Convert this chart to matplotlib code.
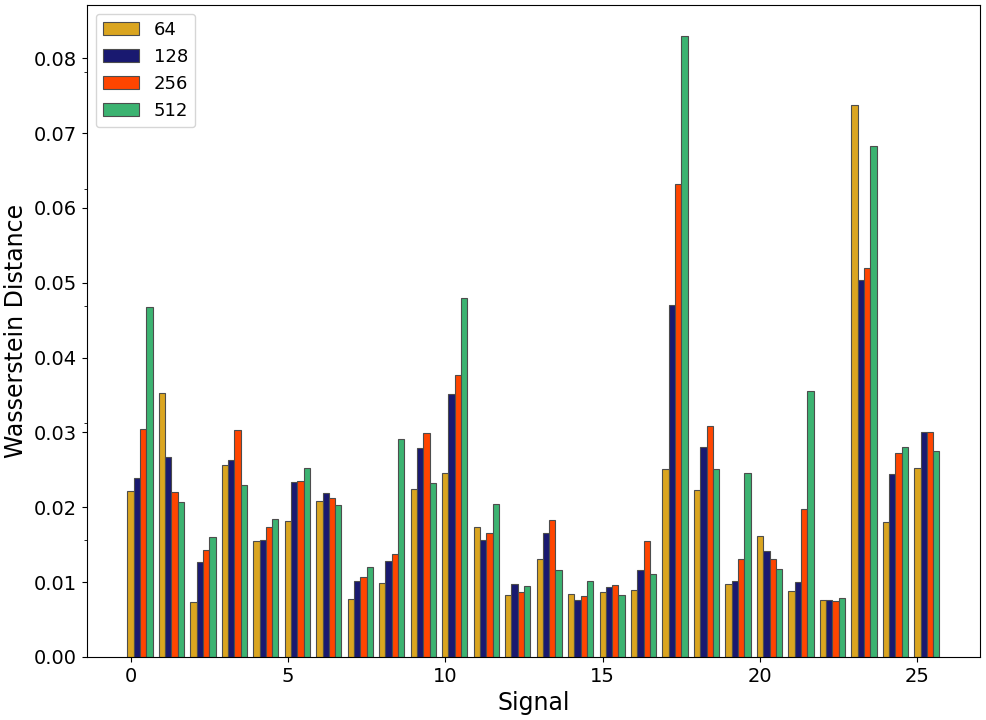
import numpy as np
from matplotlib import pyplot as plt
from matplotlib.ticker import FixedLocator

signals = np.arange(26)
sizes = ["64", "128", "256", "512"]
colors = ["goldenrod", "midnightblue", "orangered", "mediumseagreen"]

wd_64 = [0.0222, 0.0353, 0.0073, 0.0256, 0.0155, 0.0182, 0.0208, 0.0077, 0.0099, 0.0224,
         0.0246, 0.0174, 0.0083, 0.0131, 0.0084, 0.0087, 0.0090, 0.0251, 0.0223, 0.0098,
         0.0161, 0.0088, 0.0076, 0.0737, 0.0181, 0.0253]
wd_128 = [0.0239, 0.0267, 0.0127, 0.0263, 0.0156, 0.0234, 0.0219, 0.0101, 0.0128, 0.0279,
          0.0351, 0.0156, 0.0097, 0.0166, 0.0076, 0.0093, 0.0116, 0.0470, 0.0281, 0.0102,
          0.0142, 0.0100, 0.0076, 0.0504, 0.0245, 0.0301]
wd_256 = [0.0305, 0.0220, 0.0143, 0.0303, 0.0174, 0.0235, 0.0212, 0.0107, 0.0137, 0.0299,
          0.0377, 0.0166, 0.0087, 0.0183, 0.0081, 0.0096, 0.0155, 0.0632, 0.0309, 0.0131,
          0.0131, 0.0198, 0.0075, 0.0520, 0.0273, 0.0301]
wd_512 = [0.0467, 0.0207, 0.0160, 0.0230, 0.0184, 0.0252, 0.0203, 0.0120, 0.0291, 0.0232,
          0.0479, 0.0204, 0.0095, 0.0116, 0.0102, 0.0083, 0.0111, 0.0830, 0.0251, 0.0246,
          0.0118, 0.0355, 0.0079, 0.0683, 0.0280, 0.0275]

all_wd = [wd_64, wd_128, wd_256, wd_512]
width = 0.2

fig = plt.figure(figsize=(9.86, 7.2), dpi=100)
ax = fig.add_axes([0.088, 0.0875, 0.906, 0.906])

for i, (vals, lab, c) in enumerate(zip(all_wd, sizes, colors)):
    ax.bar(signals + i * width, vals, width, label=lab, color=c,
           edgecolor="#4d4d4d", linewidth=0.8)

# odd minor ticks at multiples of 1/64 like the original
ax.yaxis.set_minor_locator(FixedLocator([k / 64 for k in range(1, 6)]))
ax.tick_params(axis="both", which="major", labelsize=14)
ax.set_xlabel("Signal", fontsize=17)
ax.set_ylabel("Wasserstein Distance", fontsize=17)
ax.legend(loc="upper left", fontsize=13)

plt.savefig("out.png", dpi=100)
